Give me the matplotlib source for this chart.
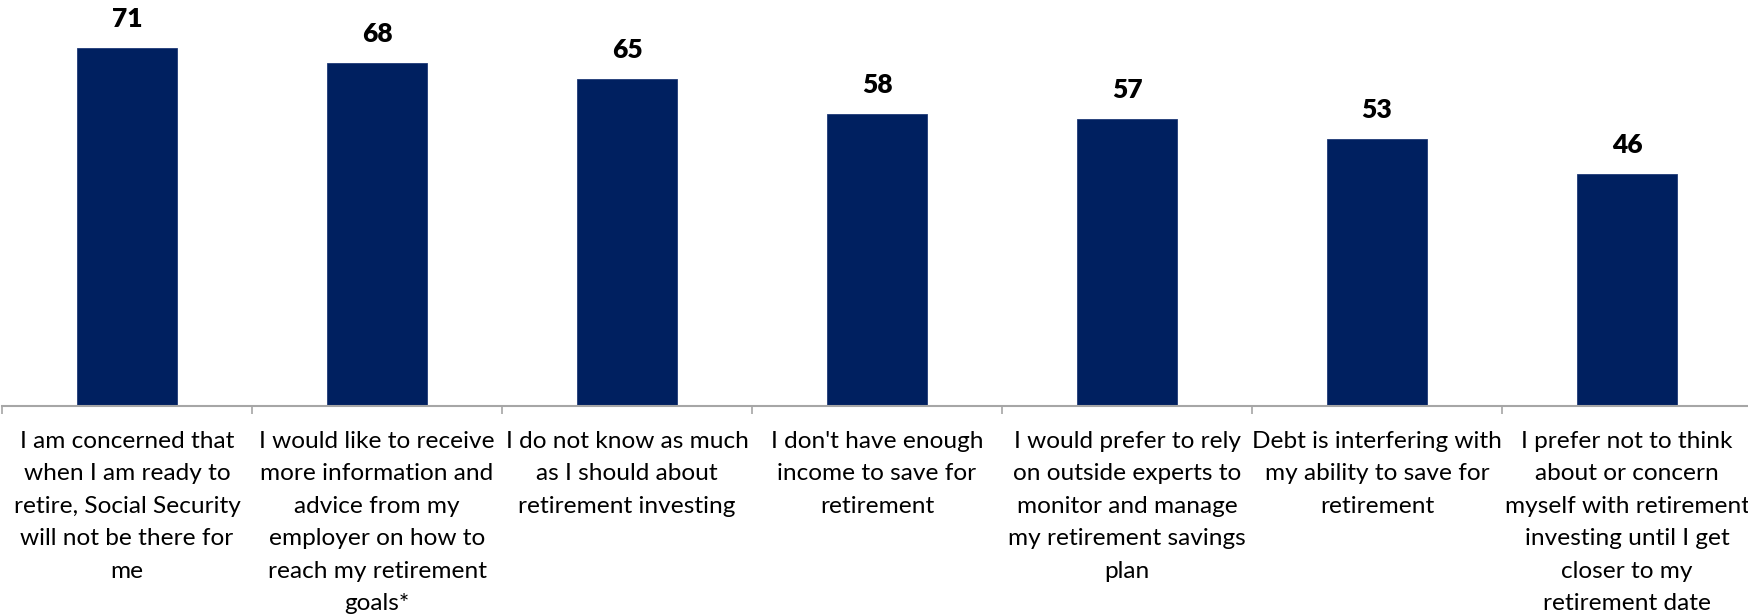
import matplotlib
matplotlib.use("Agg")
import matplotlib.pyplot as plt
import numpy as np

categories = [
    "I am concerned that\nwhen I am ready to\nretire, Social Security\nwill not be there for\nme",
    "I would like to receive\nmore information and\nadvice from my\nemployer on how to\nreach my retirement\ngoals*",
    "I do not know as much\nas I should about\nretirement investing",
    "I don't have enough\nincome to save for\nretirement",
    "I would prefer to rely\non outside experts to\nmonitor and manage\nmy retirement savings\nplan",
    "Debt is interfering with\nmy ability to save for\nretirement",
    "I prefer not to think\nabout or concern\nmyself with retirement\ninvesting until I get\ncloser to my\nretirement date",
]
values = [71, 68, 65, 58, 57, 53, 46]

W, H = 1748, 614
fig = plt.figure(figsize=(W / 100, H / 100), dpi=100)
ax = fig.add_axes([2 / W, (H - 406) / H, 1750 / W, (406 - 3) / H])

x = np.arange(len(values))
ax.bar(x, values, width=0.4, color="#002060", edgecolor="#1f3a78", linewidth=0.6, zorder=2)

ax.set_xlim(-0.5, len(values) - 0.5)
ax.set_ylim(0, 80)

for xi, v in zip(x, values):
    ax.annotate(str(v), (xi, v), xytext=(0, 17), textcoords="offset pixels",
                ha="center", va="bottom", fontsize=19, fontweight="heavy",
                family="Lato", color="black")

for s in ["top", "right", "left"]:
    ax.spines[s].set_visible(False)
ax.spines["bottom"].set_color("#a6a6a6")
ax.spines["bottom"].set_linewidth(1.5)
ax.set_yticks([])

ax.set_xticks(x)
ax.set_xticklabels(categories, fontsize=17.6, family="Lato", linespacing=1.67, color="black")
ax.tick_params(axis="x", which="major", length=0, pad=18)
ax.set_xticks(np.arange(-0.5, len(values) + 0.5, 1), minor=True)
ax.tick_params(axis="x", which="minor", length=6, width=1.2, color="#a6a6a6", direction="out")

fig.savefig("out.png", dpi=100)
